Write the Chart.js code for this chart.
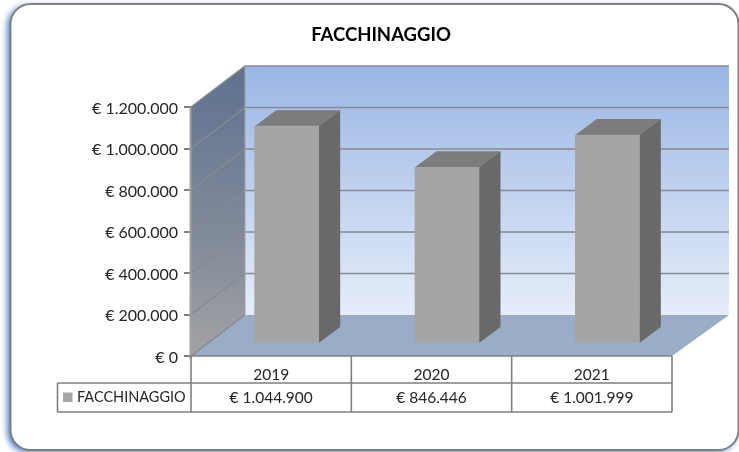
<!DOCTYPE html>
<html><head><meta charset="utf-8">
<style>html,body{margin:0;padding:0;background:#fff}canvas{display:block}</style>
<script src="https://cdn.jsdelivr.net/npm/chart.js@4"></script>
</head><body><canvas id="c" width="739" height="452"></canvas>
<script>
const categories = ['2019', '2020', '2021'];
const seriesName = 'FACCHINAGGIO';
const seriesValues = [1044900, 846446, 1001999];
const chartTitle = 'FACCHINAGGIO';
const axisMax = 1200000;
const axisStep = 200000;

const FONT = 'Lato, "Open Sans", sans-serif';
const euro = v => '€ ' + String(Math.round(v)).replace(/\B(?=(\d{3})+(?!\d))/g, '.');

const scene3d = {
  id: 'scene3d',
  afterLayout(chart) {
    const s = chart.scales;
    s.xBar.left = s.x.left + 15.5; s.xBar.right = s.x.right + 15.5; s.xBar.width = s.x.width; s.xBar.configure();
    s.yBar.top = s.y.top - 13; s.yBar.bottom = s.y.bottom - 13; s.yBar.height = s.y.height; s.yBar.configure();
    chart.titleBlock.left += 45; chart.titleBlock.right += 45;
  },
  beforeDraw(chart) {
    const c = chart.ctx;
    c.save();
    // card with a blue glow on the lower left
    c.shadowColor = 'rgba(55,110,195,0.95)'; c.shadowBlur = 6; c.shadowOffsetX = -3; c.shadowOffsetY = 2;
    c.fillStyle = '#fff'; c.strokeStyle = '#808080'; c.lineWidth = 2;
    c.beginPath(); c.roundRect(10.5, 4, 728, 446, 20); c.fill();
    c.shadowColor = 'transparent'; c.stroke();
    c.restore();
  },
  beforeDatasetsDraw(chart) {
    const c = chart.ctx, { x, y } = chart.scales;
    const L = x.left, R = x.right, B = y.bottom, T = y.top;
    const dx = 54, dy = -41, backR = 729;
    c.save();
    // back wall
    let g = c.createLinearGradient(0, T + dy, 0, B + dy);
    g.addColorStop(0, '#9ab6e4'); g.addColorStop(1, '#e6edf9');
    c.fillStyle = g; c.fillRect(L + dx, T + dy, backR - L - dx, B - T);
    // left wall
    g = c.createLinearGradient(0, T + dy, 0, B);
    g.addColorStop(0, '#5f7190'); g.addColorStop(0.6, '#828b9a'); g.addColorStop(1, '#a2a2a4');
    c.fillStyle = g; c.beginPath();
    c.moveTo(L, T); c.lineTo(L + dx, T + dy); c.lineTo(L + dx, B + dy); c.lineTo(L, B); c.closePath(); c.fill();
    // floor
    c.fillStyle = '#9aadc7'; c.beginPath();
    c.moveTo(L, B); c.lineTo(R, B); c.lineTo(backR, B + dy); c.lineTo(L + dx, B + dy); c.closePath(); c.fill();
    // grid lines from the value scale
    c.strokeStyle = '#868a92'; c.lineWidth = 1.5;
    for (const t of y.ticks) {
      const py = y.getPixelForValue(t.value);
      c.beginPath(); c.moveTo(L, py); c.lineTo(L + dx, py + dy); 
      if (t.value > 0) c.lineTo(backR, py + dy);
      c.stroke();
    }
    c.lineWidth = 1;
    c.strokeStyle = '#a0a0a0';
    c.beginPath(); c.moveTo(L + dx, T + dy); c.lineTo(L + dx, B + dy); c.stroke();
    c.lineWidth = 2;
    c.beginPath(); c.moveTo(L - 0.5, T); c.lineTo(L - 0.5, B + 3); c.stroke();
    // bars: top and side faces
    const meta = chart.getDatasetMeta(0);
    const ddx = 21.5, ddy = -16;
    meta.data.forEach(b => {
      const xl = b.x - b.width / 2, xr = b.x + b.width / 2;
      c.fillStyle = '#7c7c7c'; c.beginPath();
      c.moveTo(xl, b.y); c.lineTo(xl + ddx, b.y + ddy); c.lineTo(xr + ddx, b.y + ddy); c.lineTo(xr, b.y); c.closePath(); c.fill();
      c.fillStyle = '#696969'; c.beginPath();
      c.moveTo(xr, b.y); c.lineTo(xr + ddx, b.y + ddy); c.lineTo(xr + ddx, b.base + ddy); c.lineTo(xr, b.base); c.closePath(); c.fill();
    });
    c.restore();
  },
  afterDraw(chart) {
    const c = chart.ctx, { x, y } = chart.scales;
    const rows = [y.bottom, 383, 412];
    const cols = [x.left, ...categories.map((_, i) => (x.getPixelForTick(i) + (i < 2 ? x.getPixelForTick(i + 1) : 2 * x.getPixelForTick(i) - x.getPixelForTick(i - 1))) / 2)];
    const legendLeft = 57.5;
    c.save();
    c.strokeStyle = '#808080'; c.lineWidth = 1.6;
    c.beginPath();
    c.moveTo(cols[0], rows[0]); c.lineTo(cols[3], rows[0]);
    c.moveTo(legendLeft, rows[1]); c.lineTo(cols[3], rows[1]);
    c.moveTo(legendLeft, rows[2]); c.lineTo(cols[3], rows[2]);
    c.moveTo(legendLeft, rows[1]); c.lineTo(legendLeft, rows[2]);
    cols.forEach(p => { c.moveTo(p, rows[0]); c.lineTo(p, rows[2]); });
    c.stroke();
    c.font = '15.5px ' + FONT; c.fillStyle = '#262626'; c.textBaseline = 'middle';
    c.textAlign = 'center';
    seriesValues.forEach((v, i) => c.fillText(euro(v), x.getPixelForTick(i), 397.5));
    c.fillStyle = '#a5a5a5'; c.fillRect(63, 392.5, 9.5, 9.5);
    c.font = '14.5px ' + FONT; c.fillStyle = '#262626'; c.textAlign = 'left';
    c.fillText(seriesName, 77, 397);
    c.restore();
  }
};

new Chart(document.getElementById('c'), {
  type: 'bar',
  data: {
    labels: categories,
    datasets: [{
      label: seriesName, data: seriesValues, xAxisID: 'xBar', yAxisID: 'yBar',
      backgroundColor: '#a5a5a5', borderColor: '#9a9a9a', borderWidth: 0, barThickness: 64
    }]
  },
  options: {
    responsive: false, animation: false, devicePixelRatio: 1,
    layout: { padding: { left: 0, right: 67, top: 0, bottom: 0 } },
    plugins: {
      legend: { display: false }, tooltip: { enabled: false },
      title: {
        display: true, text: chartTitle, color: '#000',
        font: { family: FONT, size: 18.5, weight: 'bold' },
        padding: { top: 24, bottom: 60.8 }
      }
    },
    scales: {
      x: {
        type: 'category', labels: categories, position: 'bottom',
        afterFit(s) { s.height = 96; },
        grid: { display: false }, border: { display: false },
        ticks: { color: '#262626', padding: 2, maxRotation: 0, font: { family: FONT, size: 15.5 } }
      },
      y: {
        type: 'linear', position: 'left', min: 0, max: axisMax,
        afterFit(s) { s.width = 191; },
        grid: { drawOnChartArea: false, color: '#7f7f7f', tickLength: 7, lineWidth: 2 },
        border: { display: false },
        ticks: { stepSize: axisStep, color: '#262626', padding: 6, labelOffset: 1.5, callback: v => euro(v), font: { family: FONT, size: 16 } }
      },
      xBar: { type: 'category', labels: categories, position: 'bottom', display: false, offset: true },
      yBar: { type: 'linear', position: 'left', display: false, min: 0, max: axisMax }
    }
  },
  plugins: [scene3d]
});
</script></body></html>
